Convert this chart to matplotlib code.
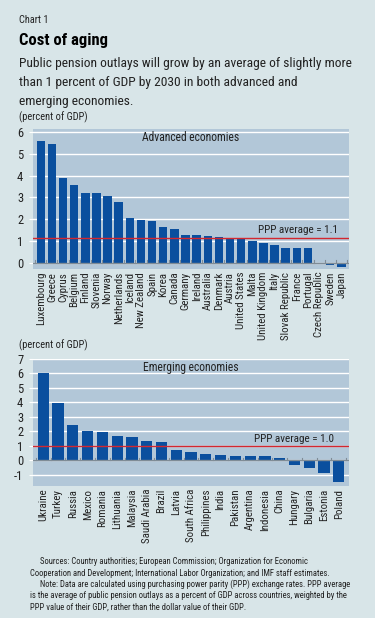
import numpy as np
import matplotlib.pyplot as plt

# data (percent of GDP)
adv_names = ["Luxembourg", "Greece", "Cyprus", "Belgium", "Finland", "Slovenia", "Norway",
             "Netherlands", "Iceland", "New Zealand", "Spain", "Korea", "Canada", "Germany",
             "Ireland", "Australia", "Denmark", "Austria", "United States", "Malta",
             "United Kingdom", "Italy", "Slovak Republic", "France", "Portugal",
             "Czech Republic", "Sweden", "Japan"]
adv_vals = [5.58, 5.48, 3.88, 3.58, 3.18, 3.18, 3.08, 2.8, 2.05, 1.97, 1.89, 1.65, 1.54,
            1.29, 1.29, 1.23, 1.18, 1.09, 1.09, 0.98, 0.89, 0.8, 0.69, 0.69, 0.69,
            0.0, -0.1, -0.23]
adv_ppp = 1.15

emg_names = ["Ukraine", "Turkey", "Russia", "Mexico", "Romania", "Lithuania", "Malaysia",
             "Saudi Arabia", "Brazil", "Latvia", "South Africa", "Philippines", "India",
             "Pakistan", "Argentina", "Indonesia", "China", "Hungary", "Bulgaria",
             "Estonia", "Poland"]
emg_vals = [6.0, 3.97, 2.41, 2.06, 1.96, 1.66, 1.64, 1.36, 1.26, 0.75, 0.56, 0.42, 0.37,
            0.33, 0.33, 0.3, 0.14, -0.35, -0.56, -0.86, -1.47]
emg_ppp = 0.98

subtitle = ["Public pension outlays will grow by an average of slightly more",
            "than 1 percent of GDP by 2030 in both advanced and",
            "emerging economies."]
notes = ["Sources: Country authorities; European Commission; Organization for Economic",
         "Cooperation and Development; International Labor Organization; and IMF staff estimates.",
         "Note: Data are calculated using purchasing power parity (PPP) exchange rates. PPP average",
         "is the average of public pension outlays as a percent of GDP across countries, weighted by the",
         "PPP value of their GDP, rather than the dollar value of their GDP."]
notes_indent = [1, 0, 1, 0, 0]

BG = "#d8e5e8"
PANEL = "#b2c7d8"
BAR = "#0a4f9e"
RED = "#d3272f"
TXT = "#222222"
plt.rcParams["font.family"] = ["Roboto Condensed", "DejaVu Sans"]

fig = plt.figure(figsize=(3.75, 6.18), dpi=100, facecolor=BG)


def panel(rect, names, vals, ppp, ylim, yticks, title, ppp_label):
    ax = fig.add_axes(rect)
    ax.set_facecolor(PANEL)
    x = np.arange(len(names))
    ax.bar(x, vals, width=0.76, color=BAR, zorder=3)
    for t in yticks:
        ax.axhline(t, color="white", lw=1.0, zorder=1)
    ax.axhline(0, color="#7f8c96", lw=1.0, zorder=4)
    # small tick marks on the zero line between bars
    for b in np.arange(len(names) + 1) - 0.5:
        ax.plot([b, b], [0, (ylim[1] - ylim[0]) * 0.018], color="#7f8c96", lw=0.8, zorder=4)
    ax.axhline(ppp, color=RED, lw=1.0, zorder=5)
    ax.text(len(names) - 1.3, ppp + (ylim[1] - ylim[0]) * 0.02, ppp_label,
            ha="right", va="bottom", fontsize=8, color=TXT, zorder=6)
    ax.text(0.5, 0.985, title, transform=ax.transAxes, ha="center", va="top",
            fontsize=8.4, color=TXT)
    ax.set_xlim(-0.7, len(names) - 0.3)
    ax.set_ylim(*ylim)
    ax.set_yticks(yticks)
    ax.set_yticklabels([str(t) for t in yticks], fontsize=9, color=TXT)
    ax.set_xticks(x)
    ax.set_xticklabels(names, rotation=90, fontsize=7.8, color=TXT, va="top")
    ax.tick_params(axis="x", length=0, pad=2)
    ax.tick_params(axis="y", length=3, color="white", pad=4)
    for s in ax.spines.values():
        s.set_visible(False)
    return ax


panel([0.088, 0.5647, 0.843, 0.2265], adv_names, adv_vals, adv_ppp, (-0.3, 6.15),
      [0, 1, 2, 3, 4, 5, 6], "Advanced economies", "PPP average = 1.1")
panel([0.088, 0.2136, 0.843, 0.2055], emg_names, emg_vals, emg_ppp, (-1.77, 7.0),
      [-1, 0, 1, 2, 3, 4, 5, 6, 7], "Emerging economies", "PPP average = 1.0")

fig.text(19 / 375, 1 - 20 / 618, "Chart 1", fontsize=7.5, color=TXT, va="center")
fig.text(19 / 375, 1 - 41 / 618, "Cost of aging", fontsize=12, fontweight="bold",
         color="black", va="center")
for i, line in enumerate(subtitle):
    fig.text(19 / 375, 1 - (64 + 18.5 * i) / 618, line, fontsize=9.7, color=TXT, va="center")
fig.text(19 / 375, 1 - 117 / 618, "(percent of GDP)", fontsize=7.5, color=TXT, va="center")
fig.text(19 / 375, 1 - 345 / 618, "(percent of GDP)", fontsize=7.5, color=TXT, va="center")

for i, line in enumerate(notes):
    x0 = 40 if notes_indent[i] else 30
    fig.text(x0 / 375, 1 - (562 + 11.2 * i) / 618, line, fontsize=6.2, color=TXT, va="center")

fig.savefig("out.png", dpi=100, facecolor=BG)
